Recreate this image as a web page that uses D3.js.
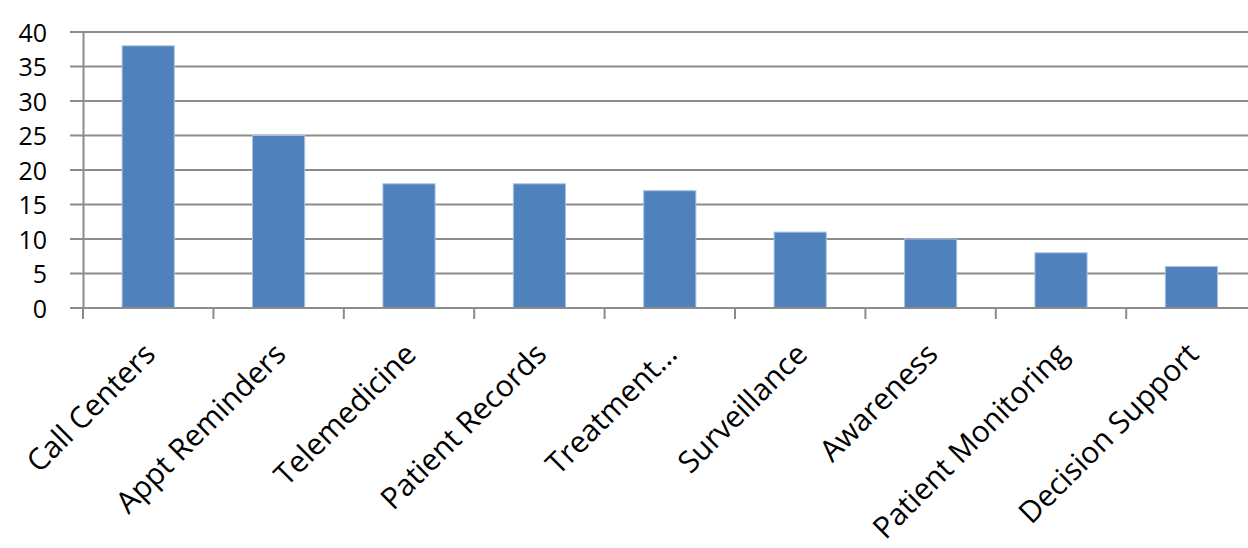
<!DOCTYPE html>
<html>
<head>
<meta charset="utf-8">
<script src="https://cdn.jsdelivr.net/npm/d3@7"></script>
<style>
  body { margin: 0; background: #fff; }
  text { font-family: "Open Sans", "Noto Sans", sans-serif; fill: #000; }
</style>
</head>
<body>
<div id="chart"></div>
<script>
// chart data
var categories = ["Call Centers", "Appt Reminders", "Telemedicine", "Patient Records",
  "Treatment\u2026", "Surveillance", "Awareness", "Patient Monitoring", "Decision Support"];
var values = [38, 25, 18, 18, 17, 11, 10, 8, 6];
var yTicks = [0, 5, 10, 15, 20, 25, 30, 35, 40];

var svgWidth = 1248;
var svgHeight = 548;

var plotLeft = 83;
var plotTop = 32;
var plotBottom = 308;
var step = 130.4;

var svg = d3.select("#chart")
  .append("svg")
  .attr("width", svgWidth)
  .attr("height", svgHeight);

var xScale = d3.scaleBand()
  .domain(categories)
  .range([plotLeft, plotLeft + step * categories.length])
  .paddingInner(0.6)
  .paddingOuter(0.3);

var yScale = d3.scaleLinear()
  .domain([0, 40])
  .range([plotBottom, plotTop]);

// gridlines
svg.append("g")
  .selectAll("line")
  .data(yTicks)
  .enter()
  .append("line")
  .attr("x1", plotLeft - 13)
  .attr("x2", svgWidth)
  .attr("y1", d => yScale(d))
  .attr("y2", d => yScale(d))
  .attr("stroke", "#8c8c8c")
  .attr("stroke-width", 2);

// y axis
var leftAxis = d3.axisLeft(yScale).tickValues(yTicks).tickSize(0).tickPadding(36);
var yAxis = svg.append("g")
  .attr("transform", `translate(${plotLeft}, 0)`)
  .call(leftAxis);
yAxis.select(".domain")
  .attr("stroke", "#8c8c8c")
  .attr("stroke-width", 2);
yAxis.selectAll("text")
  .attr("font-size", 25)
  .attr("dy", "0.36em");

// bars
svg.append("g")
  .selectAll("rect")
  .data(values)
  .enter()
  .append("rect")
  .attr("x", (d, i) => xScale(categories[i]))
  .attr("y", d => yScale(d))
  .attr("width", xScale.bandwidth())
  .attr("height", d => yScale(0) - yScale(d))
  .attr("fill", "#4f81bd")
  .attr("stroke", "#a9c1e0")
  .attr("stroke-width", 1);

// x axis baseline and ticks between categories
var tickPos = d3.range(categories.length + 1).map(i => plotLeft + i * step);
svg.append("line")
  .attr("x1", plotLeft - 13)
  .attr("x2", svgWidth)
  .attr("y1", plotBottom)
  .attr("y2", plotBottom)
  .attr("stroke", "#8c8c8c")
  .attr("stroke-width", 2);
svg.append("g")
  .selectAll("line")
  .data(tickPos)
  .enter()
  .append("line")
  .attr("x1", d => d)
  .attr("x2", d => d)
  .attr("y1", plotBottom)
  .attr("y2", plotBottom + 11)
  .attr("stroke", "#8c8c8c")
  .attr("stroke-width", 2);

// rotated category labels
svg.append("g")
  .selectAll("text")
  .data(categories)
  .enter()
  .append("text")
  .attr("transform", d => `translate(${xScale(d) + xScale.bandwidth() / 2 + 9}, 356) rotate(-45)`)
  .attr("text-anchor", "end")
  .attr("font-size", 30)
  .text(d => d);
</script>
</body>
</html>
